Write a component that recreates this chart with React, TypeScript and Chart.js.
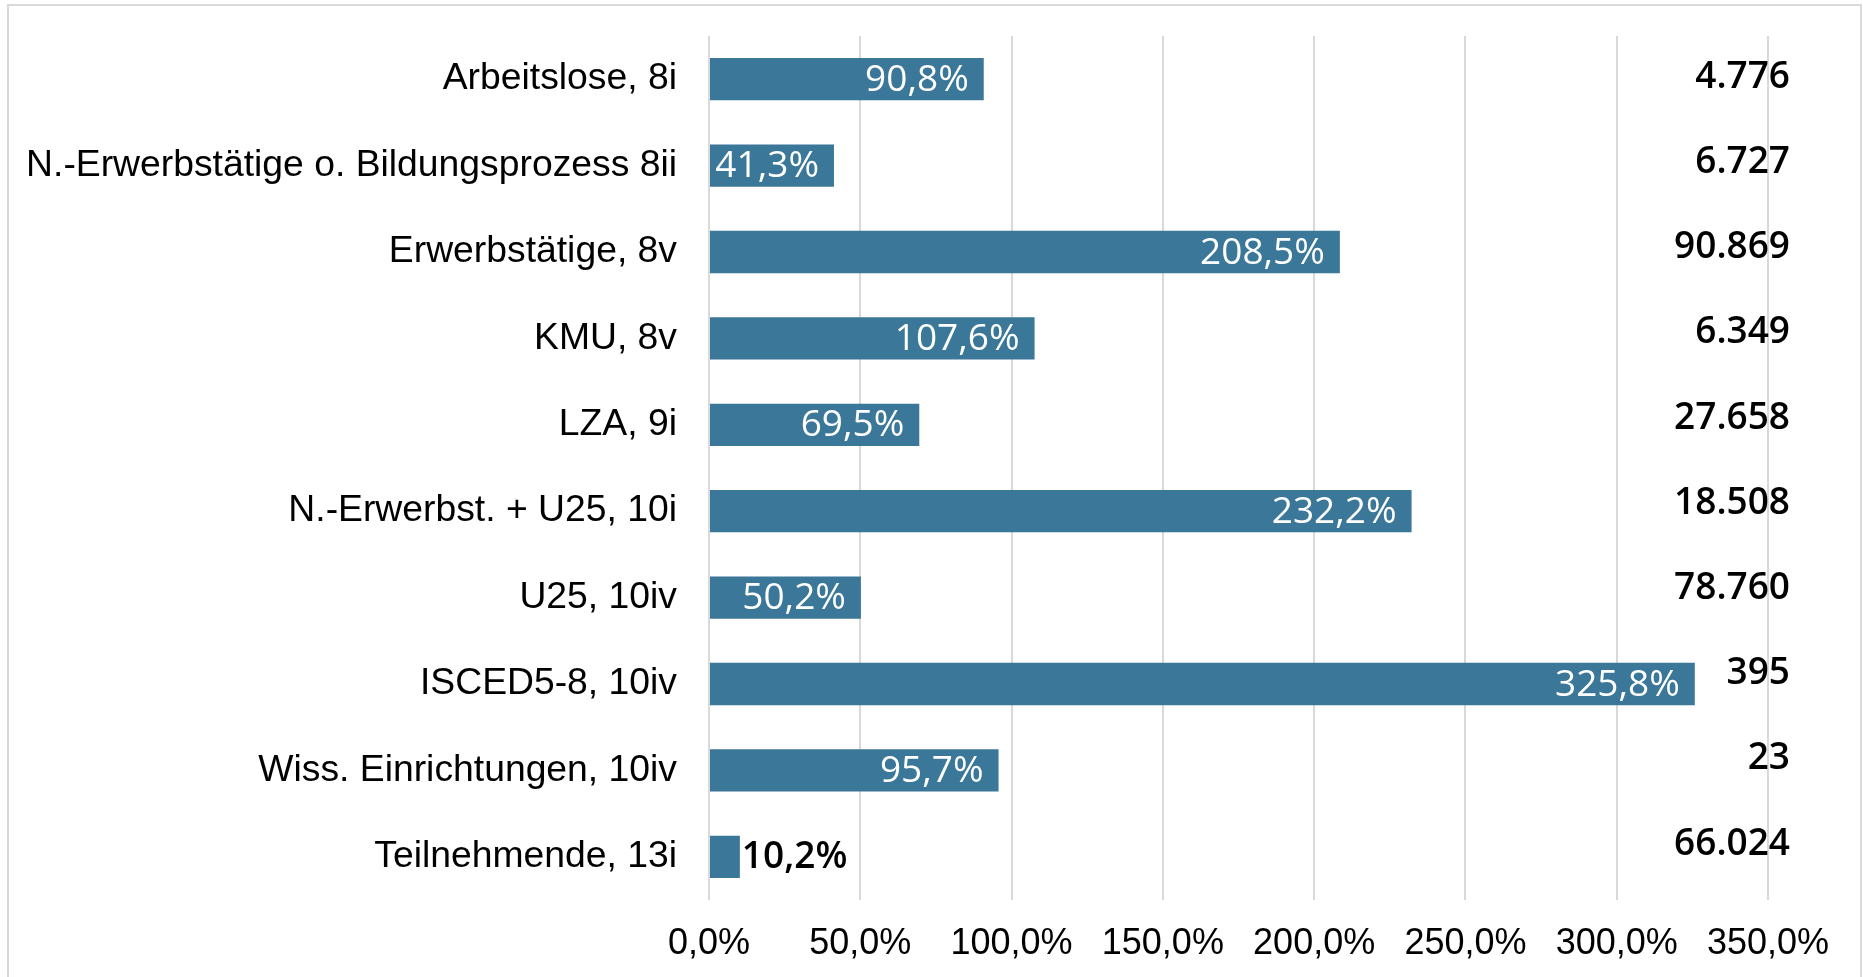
import React, { useEffect, useRef } from "react";
import { Chart, registerables } from "chart.js";

Chart.register(...registerables);

const categories = [
  "Arbeitslose, 8i",
  "N.-Erwerbstätige o. Bildungsprozess 8ii",
  "Erwerbstätige, 8v",
  "KMU, 8v",
  "LZA, 9i",
  "N.-Erwerbst. + U25, 10i",
  "U25, 10iv",
  "ISCED5-8, 10iv",
  "Wiss. Einrichtungen, 10iv",
  "Teilnehmende, 13i",
];

const percentValues = [90.8, 41.3, 208.5, 107.6, 69.5, 232.2, 50.2, 325.8, 95.7, 10.2];

const counts = [4776, 6727, 90869, 6349, 27658, 18508, 78760, 395, 23, 66024];

const xTicks = [0, 50, 100, 150, 200, 250, 300, 350];

const BAR_COLOR = "#3A7798";
const GRID_COLOR = "#d9d9d9";

const fmtPct = (v: number) =>
  v.toLocaleString("de-DE", { minimumFractionDigits: 1, maximumFractionDigits: 1 }) + "%";
const fmtCount = (v: number) => v.toLocaleString("de-DE");

const labelsPlugin = {
  id: "customLabels",
  afterDatasetsDraw(chart: any) {
    const ctx = chart.ctx;
    const meta = chart.getDatasetMeta(0);
    const area = chart.chartArea;
    ctx.save();
    meta.data.forEach((bar: any, i: number) => {
      const v = percentValues[i];
      const text = fmtPct(v);
      const barLen = bar.x - bar.base;
      ctx.font = "400 37px 'Open Sans'";
      const w = ctx.measureText(text).width;
      ctx.textBaseline = "middle";
      if (barLen > w + 20) {
        ctx.fillStyle = "#ffffff";
        ctx.textAlign = "right";
        ctx.fillText(text, bar.x - 15, bar.y + 1);
      } else {
        ctx.font = "600 37px 'Open Sans'";
        ctx.fillStyle = "#000000";
        ctx.textAlign = "left";
        ctx.fillText(text, bar.x + 2, bar.y + 1);
      }
      // right-hand counts
      ctx.font = "600 37px 'Open Sans'";
      ctx.fillStyle = "#000000";
      ctx.textAlign = "right";
      ctx.fillText(fmtCount(counts[i]), area.right + 22, bar.y - 2 - i * 1.2);
    });
    ctx.restore();
  },
};

export default function App() {
  const ref = useRef<HTMLCanvasElement | null>(null);

  useEffect(() => {
    if (!ref.current) return;
    const chart = new Chart(ref.current, {
      type: "bar",
      data: {
        labels: categories,
        datasets: [
          {
            data: percentValues,
            backgroundColor: BAR_COLOR,
            borderWidth: 0,
            barPercentage: 1,
            categoryPercentage: 0.49,
          },
        ],
      },
      options: {
        indexAxis: "y",
        animation: false,
        responsive: false,
        maintainAspectRatio: false,
        layout: { padding: { left: 0, top: 36, right: 95, bottom: 0 } },
        plugins: {
          legend: { display: false },
          tooltip: { enabled: false },
        },
        scales: {
          x: {
            min: 0,
            max: 350,
            afterBuildTicks: (scale: any) => {
              scale.ticks = xTicks.map((v) => ({ value: v }));
            },
            afterFit: (scale: any) => {
              scale.height = 77;
              scale.paddingLeft = 0;
              scale.paddingRight = 0;
            },
            grid: {
              color: GRID_COLOR,
              lineWidth: 2,
              drawTicks: false,
            },
            border: { display: false },
            ticks: {
              padding: 22,
              color: "#000000",
              font: { family: "'Liberation Sans', Arial", size: 36 },
              callback: (v: any) => fmtPct(Number(v)),
            },
          },
          y: {
            afterFit: (scale: any) => {
              scale.width = 709;
              scale.paddingTop = 0;
              scale.paddingBottom = 0;
            },
            grid: { display: false, drawTicks: false },
            border: { display: false },
            ticks: {
              padding: 32,
              color: "#000000",
              font: { family: "'Liberation Sans', Arial", size: 37.3 },
            },
          },
        },
      },
      plugins: [labelsPlugin],
    } as any);
    return () => chart.destroy();
  }, []);

  return (
    <div style={{ position: "fixed", left: 0, top: 0, width: 1863, height: 977, background: "#fff", overflow: "hidden" }}>
      <div
        style={{
          position: "absolute",
          left: 7,
          top: 4,
          width: 1855,
          height: 1000,
          border: "2px solid #d9d9d9",
          boxSizing: "border-box",
        }}
      />
      <canvas ref={ref} width={1863} height={977} style={{ position: "absolute", left: 0, top: 0, width: 1863, height: 977 }} />
    </div>
  );
}
